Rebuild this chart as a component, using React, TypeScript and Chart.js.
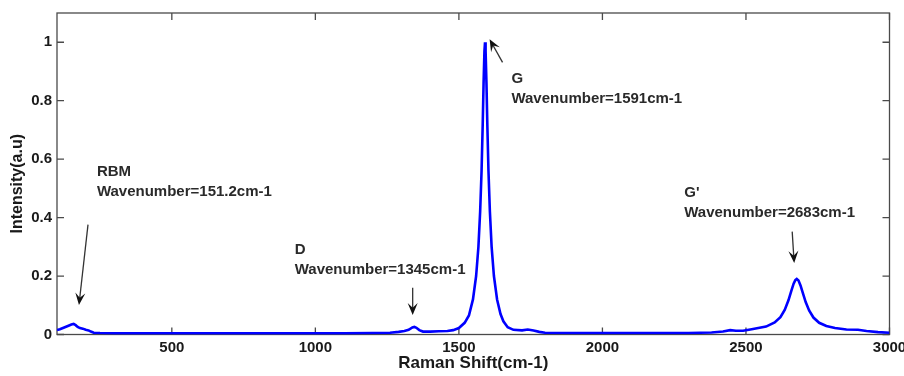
import React, { useEffect, useRef } from "react";
import { Chart, registerables } from "chart.js";

Chart.register(...registerables);

// ---- data ----
const ramanShift = [
  100, 110, 125, 140, 150, 158, 165, 172, 180, 190, 200, 210, 218, 228, 250, 300, 400, 500, 600, 700,
  800, 900, 1000, 1100, 1200, 1260, 1290, 1310, 1325, 1338, 1345, 1352, 1362, 1375, 1400, 1430, 1460,
  1480, 1500, 1520, 1535, 1549, 1560, 1568, 1574, 1579, 1583, 1586, 1589, 1591, 1593, 1596, 1599, 1603,
  1608, 1614, 1622, 1633, 1645, 1655, 1670, 1690, 1720, 1740, 1760, 1780, 1800, 1900, 2000, 2100, 2200,
  2300, 2380, 2420, 2445, 2465, 2490, 2520, 2570, 2600, 2620, 2635, 2648, 2658, 2666, 2672, 2677, 2683,
  2690, 2698, 2708, 2720, 2735, 2755, 2780, 2810, 2850, 2890, 2920, 2960, 3000,
];
const intensity = [
  0.015, 0.018, 0.024, 0.03, 0.034, 0.036, 0.032, 0.026, 0.022, 0.02, 0.016, 0.014, 0.01, 0.006, 0.005,
  0.004, 0.004, 0.004, 0.004, 0.004, 0.004, 0.004, 0.004, 0.004, 0.005, 0.006, 0.009, 0.012, 0.016,
  0.024, 0.026, 0.023, 0.015, 0.01, 0.01, 0.011, 0.012, 0.015, 0.022, 0.04, 0.065, 0.12, 0.2, 0.3, 0.42,
  0.56, 0.72, 0.86, 0.97, 1.0, 0.97, 0.86, 0.72, 0.56, 0.42, 0.3, 0.2, 0.12, 0.07, 0.045, 0.025, 0.016,
  0.014, 0.017, 0.014, 0.009, 0.006, 0.005, 0.005, 0.005, 0.005, 0.005, 0.007, 0.01, 0.015, 0.013,
  0.013, 0.018, 0.027, 0.041, 0.059, 0.084, 0.117, 0.149, 0.174, 0.186, 0.19, 0.185, 0.168, 0.142,
  0.111, 0.082, 0.058, 0.04, 0.029, 0.022, 0.017, 0.016, 0.012, 0.008, 0.006,
];

const xTickValues = [500, 1000, 1500, 2000, 2500, 3000];
const yTickValues = [0, 0.2, 0.4, 0.6, 0.8, 1];

const xTitle = "Raman Shift(cm-1)";
const yTitle = "Intensity(a.u)";

const peakNames = ["RBM", "D", "G", "G'"];
const peakLabels = [
  "Wavenumber=151.2cm-1",
  "Wavenumber=1345cm-1",
  "Wavenumber=1591cm-1",
  "Wavenumber=2683cm-1",
];
// annotation anchors in data units (Raman shift, intensity)
const labelAnchors = [
  { x: 239, y: 0.557 },
  { x: 928, y: 0.29 },
  { x: 1683, y: 0.873 },
  { x: 2285, y: 0.485 },
];
const arrowTails = [
  { x: 208, y: 0.376 },
  { x: 1339, y: 0.16 },
  { x: 1652, y: 0.931 },
  { x: 2661, y: 0.352 },
];
const arrowTips = [
  { x: 176.5, y: 0.101 },
  { x: 1339, y: 0.067 },
  { x: 1607, y: 1.01 },
  { x: 2668, y: 0.245 },
];

const FONT = "'Liberation Sans', Arial, sans-serif";

const framePlugin = {
  id: "frame",
  beforeDatasetsDraw(chart: any) {
    const { ctx, chartArea: a, scales } = chart;
    const x = scales.x;
    const y = scales.y;
    ctx.save();
    ctx.strokeStyle = "#4a4a4a";
    ctx.lineWidth = 1.3;
    ctx.strokeRect(a.left, a.top, a.right - a.left, a.bottom - a.top);
    ctx.beginPath();
    const tl = 7;
    xTickValues.forEach((v) => {
      const px = x.getPixelForValue(v);
      ctx.moveTo(px, a.bottom);
      ctx.lineTo(px, a.bottom - tl);
      ctx.moveTo(px, a.top);
      ctx.lineTo(px, a.top + tl);
    });
    yTickValues.forEach((v) => {
      const py = y.getPixelForValue(v);
      ctx.moveTo(a.left, py);
      ctx.lineTo(a.left + tl, py);
      ctx.moveTo(a.right, py);
      ctx.lineTo(a.right - tl, py);
    });
    ctx.stroke();

    // y axis title
    ctx.translate(18, (a.top + a.bottom) / 2 + 10);
    ctx.rotate(-Math.PI / 2);
    ctx.font = `bold 16px ${FONT}`;
    ctx.fillStyle = "#1a1a1a";
    ctx.textAlign = "center";
    ctx.textBaseline = "middle";
    ctx.fillText(yTitle, 0, 0);
    ctx.restore();
  },
  afterDatasetsDraw(chart: any) {
    const { ctx, scales } = chart;
    const x = scales.x;
    const y = scales.y;
    ctx.save();
    ctx.font = `bold 15px ${FONT}`;
    ctx.fillStyle = "#2a2a2a";
    ctx.textAlign = "left";
    ctx.textBaseline = "middle";
    labelAnchors.forEach((p, i) => {
      const px = x.getPixelForValue(p.x);
      const py = y.getPixelForValue(p.y);
      ctx.fillText(peakNames[i], px, py);
      ctx.fillText(peakLabels[i], px, py + 20);
    });
    arrowTails.forEach((t, i) => {
      const x0 = x.getPixelForValue(t.x);
      const y0 = y.getPixelForValue(t.y);
      const x1 = x.getPixelForValue(arrowTips[i].x);
      const y1 = y.getPixelForValue(arrowTips[i].y);
      const ang = Math.atan2(y1 - y0, x1 - x0);
      const len = 12;
      const half = 5;
      ctx.strokeStyle = "#333";
      ctx.lineWidth = 1.3;
      ctx.beginPath();
      ctx.moveTo(x0, y0);
      ctx.lineTo(x1 - Math.cos(ang) * 6, y1 - Math.sin(ang) * 6);
      ctx.stroke();
      const cos = Math.cos(ang);
      const sin = Math.sin(ang);
      const bx = x1 - cos * len;
      const by = y1 - sin * len;
      const nx = x1 - cos * len * 0.6;
      const ny = y1 - sin * len * 0.6;
      ctx.fillStyle = "#111";
      ctx.beginPath();
      ctx.moveTo(x1, y1);
      ctx.lineTo(bx - sin * half, by + cos * half);
      ctx.lineTo(nx, ny);
      ctx.lineTo(bx + sin * half, by - cos * half);
      ctx.closePath();
      ctx.fill();
    });
    ctx.restore();
  },
};

export default function App() {
  const ref = useRef<HTMLCanvasElement | null>(null);
  useEffect(() => {
    if (!ref.current) return;
    const points = ramanShift.map((v, i) => ({ x: v, y: intensity[i] }));
    const chart = new Chart(ref.current, {
      type: "line",
      data: {
        datasets: [
          {
            data: points,
            borderColor: "#0000ff",
            borderWidth: 2.6,
            pointRadius: 0,
            tension: 0,
            fill: false,
          },
        ],
      },
      options: {
        responsive: false,
        animation: false,
        events: [],
        layout: { padding: { top: 13, right: 14.5, left: 0, bottom: 0 } },
        plugins: { legend: { display: false }, tooltip: { enabled: false } },
        scales: {
          x: {
            type: "linear",
            min: 100,
            max: 3000,
            grid: { display: false, drawTicks: false },
            border: { display: false },
            afterBuildTicks: (s: any) => {
              s.ticks = xTickValues.map((v) => ({ value: v }));
            },
            afterFit: (s: any) => {
              s.height = 41.5;
              s.paddingLeft = 0;
              s.paddingRight = 0;
            },
            ticks: {
              autoSkip: false,
              maxRotation: 0,
              padding: 4,
              color: "#1a1a1a",
              font: { family: FONT, size: 15, weight: "bold" },
              callback: (v: any) => String(v),
            },
            title: {
              display: true,
              text: xTitle,
              color: "#1a1a1a",
              font: { family: FONT, size: 17, weight: "bold" },
              padding: { top: 0, bottom: 2 },
            },
          },
          y: {
            type: "linear",
            min: 0,
            max: 1.1,
            grid: { display: false, drawTicks: false },
            border: { display: false },
            afterBuildTicks: (s: any) => {
              s.ticks = yTickValues.map((v) => ({ value: v }));
            },
            afterFit: (s: any) => {
              s.width = 57;
              s.paddingTop = 0;
              s.paddingBottom = 0;
            },
            ticks: {
              autoSkip: false,
              padding: 5,
              color: "#1a1a1a",
              font: { family: FONT, size: 15, weight: "bold" },
              callback: (v: any) => String(+(+v).toFixed(1)),
            },
          },
        },
      },
      plugins: [framePlugin],
    });
    return () => chart.destroy();
  }, []);
  return (
    <div style={{ position: "absolute", left: 0, top: 0, width: 904, height: 376, background: "#fff" }}>
      <canvas ref={ref} width={904} height={376} style={{ display: "block" }} />
    </div>
  );
}
